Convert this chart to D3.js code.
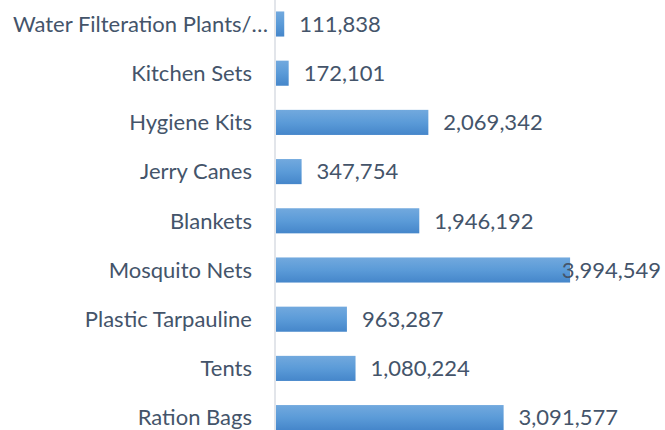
<!DOCTYPE html>
<html>
<head>
<meta charset="utf-8">
<script src="https://cdn.jsdelivr.net/npm/d3@7"></script>
<style>
  body { margin: 0; background: #fff; }
  text { font-family: Lato, "Open Sans", sans-serif; fill: #44546a; }
</style>
</head>
<body>
<script>
document.addEventListener('DOMContentLoaded', function () {
    // Data, top to bottom as drawn
    var categories = [
        "Water Filteration Plants/\u2026",
        "Kitchen Sets",
        "Hygiene Kits",
        "Jerry Canes",
        "Blankets",
        "Mosquito Nets",
        "Plastic Tarpauline",
        "Tents",
        "Ration Bags"
    ];
    var values = [111838, 172101, 2069342, 347754, 1946192, 3994549, 963287, 1080224, 3091577];

    var width = 665, height = 430;
    var axisX = 275;

    var svg = d3.select("body").append("svg")
        .attr("width", width)
        .attr("height", height);

    var defs = svg.append("defs");
    var grad = defs.append("linearGradient")
        .attr("id", "barGrad")
        .attr("x1", 0).attr("y1", 0).attr("x2", 0).attr("y2", 1);
    grad.append("stop").attr("offset", "0%").attr("stop-color", "#72a9de");
    grad.append("stop").attr("offset", "50%").attr("stop-color", "#5b9bd8");
    grad.append("stop").attr("offset", "100%").attr("stop-color", "#4586ca");

    var x = d3.scaleLinear()
        .domain([0, 4000000])
        .range([axisX + 1, axisX + 1 + 294.5]);

    var y = d3.scaleBand()
        .domain(categories)
        .range([-0.6, 442.2])
        .paddingInner(0.49)
        .paddingOuter(0.245);

    var rows = categories.map((c, i) => ({ name: c, value: values[i] }));

    // Bars
    svg.append("g")
        .attr("class", "bars")
        .selectAll("rect")
        .data(rows)
        .enter().append("rect")
        .attr("x", x(0))
        .attr("y", d => y(d.name))
        .attr("width", d => x(d.value) - x(0))
        .attr("height", y.bandwidth())
        .attr("fill", "url(#barGrad)");

    // Vertical axis line
    svg.append("line")
        .attr("x1", axisX).attr("x2", axisX)
        .attr("y1", 0).attr("y2", height)
        .attr("stroke", "#d9dde3")
        .attr("stroke-width", 1.5);

    // Category labels
    svg.append("g")
        .attr("class", "labels")
        .selectAll("text")
        .data(rows)
        .enter().append("text")
        .attr("x", d => d.name.endsWith("\u2026") ? axisX - 7 : axisX - 23)
        .attr("y", d => y(d.name) + y.bandwidth() / 2)
        .attr("dy", "0.35em")
        .attr("text-anchor", "end")
        .style("font-size", "22px")
        .text(d => d.name);

    // Value labels, kept inside the right edge
    var fmt = d3.format(",");
    svg.append("g")
        .attr("class", "values")
        .selectAll("text")
        .data(rows)
        .enter().append("text")
        .attr("y", d => y(d.name) + y.bandwidth() / 2)
        .attr("dy", "0.35em")
        .style("font-size", "22px")
        .text(d => fmt(d.value))
        .attr("x", function (d) {
            var w = this.getComputedTextLength();
            return Math.min(x(d.value) + 15, 661 - w);
        });
});
</script>
</body>
</html>
